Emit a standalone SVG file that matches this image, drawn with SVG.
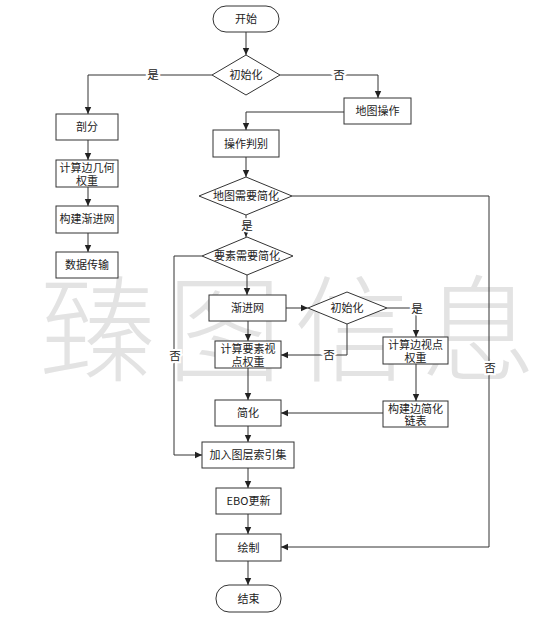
<svg xmlns="http://www.w3.org/2000/svg" width="548" height="627" viewBox="0 0 548 627">
<style>
.bg{fill:#fff}
.wm{font-family:"Noto Sans CJK SC","Liberation Serif",serif;font-size:115px;fill:#e3e3e3;font-weight:300}
.n rect,.n polygon{fill:#fff;stroke:#333;stroke-width:1}
.t{font-family:"Noto Sans CJK SC","Liberation Sans",sans-serif;font-size:11px;fill:#222;text-anchor:middle}
.c path{fill:none;stroke:#333;stroke-width:1}
.lb{font-family:"Noto Sans CJK SC","Liberation Sans",sans-serif;font-size:11.5px;fill:#222;text-anchor:middle;stroke:#fff;stroke-width:4px;paint-order:stroke}
</style>
<defs>
<marker id="ah" markerUnits="userSpaceOnUse" markerWidth="8" markerHeight="8" refX="7" refY="4" orient="auto">
<path d="M0,0.8 L7,4 L0,7.2 Z" fill="#222"/>
</marker>
</defs>
<rect class="bg" x="0" y="0" width="548" height="627"/>
<text class="wm" x="40" y="372" letter-spacing="12">臻图信息</text>

<g class="c" id="connectors">
<path d="M246,32 V55" marker-end="url(#ah)"/>
<path d="M212,75 H88 V114" marker-end="url(#ah)"/>
<path d="M280,75 H378 V98" marker-end="url(#ah)"/>
<path d="M344,112 H246 V130" marker-end="url(#ah)"/>
<path d="M88,140 V160" marker-end="url(#ah)"/>
<path d="M88,187 V206" marker-end="url(#ah)"/>
<path d="M88,233 V252" marker-end="url(#ah)"/>
<path d="M246,157 V177" marker-end="url(#ah)"/>
<path d="M246,215 V237" marker-end="url(#ah)"/>
<path d="M292,196 H489 V547 H281" marker-end="url(#ah)"/>
<path d="M202,256 H174 V455 H202" marker-end="url(#ah)"/>
<path d="M247,275 V295" marker-end="url(#ah)"/>
<path d="M286,308 H308" marker-end="url(#ah)"/>
<path d="M387,308 H416 V337" marker-end="url(#ah)"/>
<path d="M347,324 V355 H281" marker-end="url(#ah)"/>
<path d="M248,321 V341" marker-end="url(#ah)"/>
<path d="M248,368 V400" marker-end="url(#ah)"/>
<path d="M416,364 V401" marker-end="url(#ah)"/>
<path d="M383,413 H281" marker-end="url(#ah)"/>
<path d="M248,426 V442" marker-end="url(#ah)"/>
<path d="M248,468 V488" marker-end="url(#ah)"/>
<path d="M248,514 V534" marker-end="url(#ah)"/>
<path d="M248,561 V585" marker-end="url(#ah)"/>
<text class="lb" x="153" y="79">是</text>
<text class="lb" x="339" y="79">否</text>
<text class="lb" x="247" y="230">是</text>
<text class="lb" x="490" y="372">否</text>
<text class="lb" x="175" y="360">否</text>
<text class="lb" x="417" y="313">是</text>
<text class="lb" x="329" y="359">否</text>
</g>

<g class="n" id="start"><rect x="213" y="6" width="66" height="26" rx="13"/><text class="t" x="246" y="23">开始</text></g>
<g class="n" id="init1"><polygon points="212,75 246,55 280,75 246,95"/><text class="t" x="246" y="79">初始化</text></g>
<g class="n" id="pofen"><rect x="56" y="114" width="62" height="26"/><text class="t" x="87" y="131">剖分</text></g>
<g class="n" id="geomw"><rect x="56" y="160" width="62" height="27"/><text class="t" x="87" y="172">计算边几何</text><text class="t" x="87" y="184.5">权重</text></g>
<g class="n" id="buildpm"><rect x="56" y="206" width="62" height="27"/><text class="t" x="87" y="223">构建渐进网</text></g>
<g class="n" id="transfer"><rect x="56" y="252" width="62" height="26"/><text class="t" x="87" y="269">数据传输</text></g>
<g class="n" id="mapop"><rect x="344" y="98" width="67" height="26"/><text class="t" x="377.5" y="115">地图操作</text></g>
<g class="n" id="opjudge"><rect x="213" y="130" width="66" height="27"/><text class="t" x="246" y="147.5">操作判别</text></g>
<g class="n" id="mapsimp"><polygon points="199,196 246,177 292,196 246,215"/><text class="t" x="246" y="200">地图需要简化</text></g>
<g class="n" id="featsimp"><polygon points="202,256 247,237 293,256 247,275"/><text class="t" x="247" y="260">要素需要简化</text></g>
<g class="n" id="pm"><rect x="209" y="295" width="77" height="26"/><text class="t" x="247.5" y="312">渐进网</text></g>
<g class="n" id="init2"><polygon points="308,308 347,292 387,308 347,324"/><text class="t" x="347" y="312">初始化</text></g>
<g class="n" id="edgevw"><rect x="383" y="337" width="65" height="27"/><text class="t" x="415.5" y="349">计算边视点</text><text class="t" x="415.5" y="361.5">权重</text></g>
<g class="n" id="featvw"><rect x="215" y="341" width="66" height="27"/><text class="t" x="248" y="353">计算要素视</text><text class="t" x="248" y="365.5">点权重</text></g>
<g class="n" id="simp"><rect x="215" y="400" width="66" height="26"/><text class="t" x="248" y="417">简化</text></g>
<g class="n" id="edgelist"><rect x="383" y="401" width="65" height="26"/><text class="t" x="415.5" y="412.5">构建边简化</text><text class="t" x="415.5" y="425">链表</text></g>
<g class="n" id="layeridx"><rect x="202" y="442" width="92" height="26"/><text class="t" x="248" y="459">加入图层索引集</text></g>
<g class="n" id="ebo"><rect x="216" y="488" width="65" height="26"/><text class="t" x="248.5" y="505">EBO更新</text></g>
<g class="n" id="draw"><rect x="216" y="534" width="65" height="27"/><text class="t" x="248.5" y="551.5">绘制</text></g>
<g class="n" id="end"><rect x="216" y="585" width="65" height="27" rx="13"/><text class="t" x="248.5" y="602.5">结束</text></g>
</svg>
